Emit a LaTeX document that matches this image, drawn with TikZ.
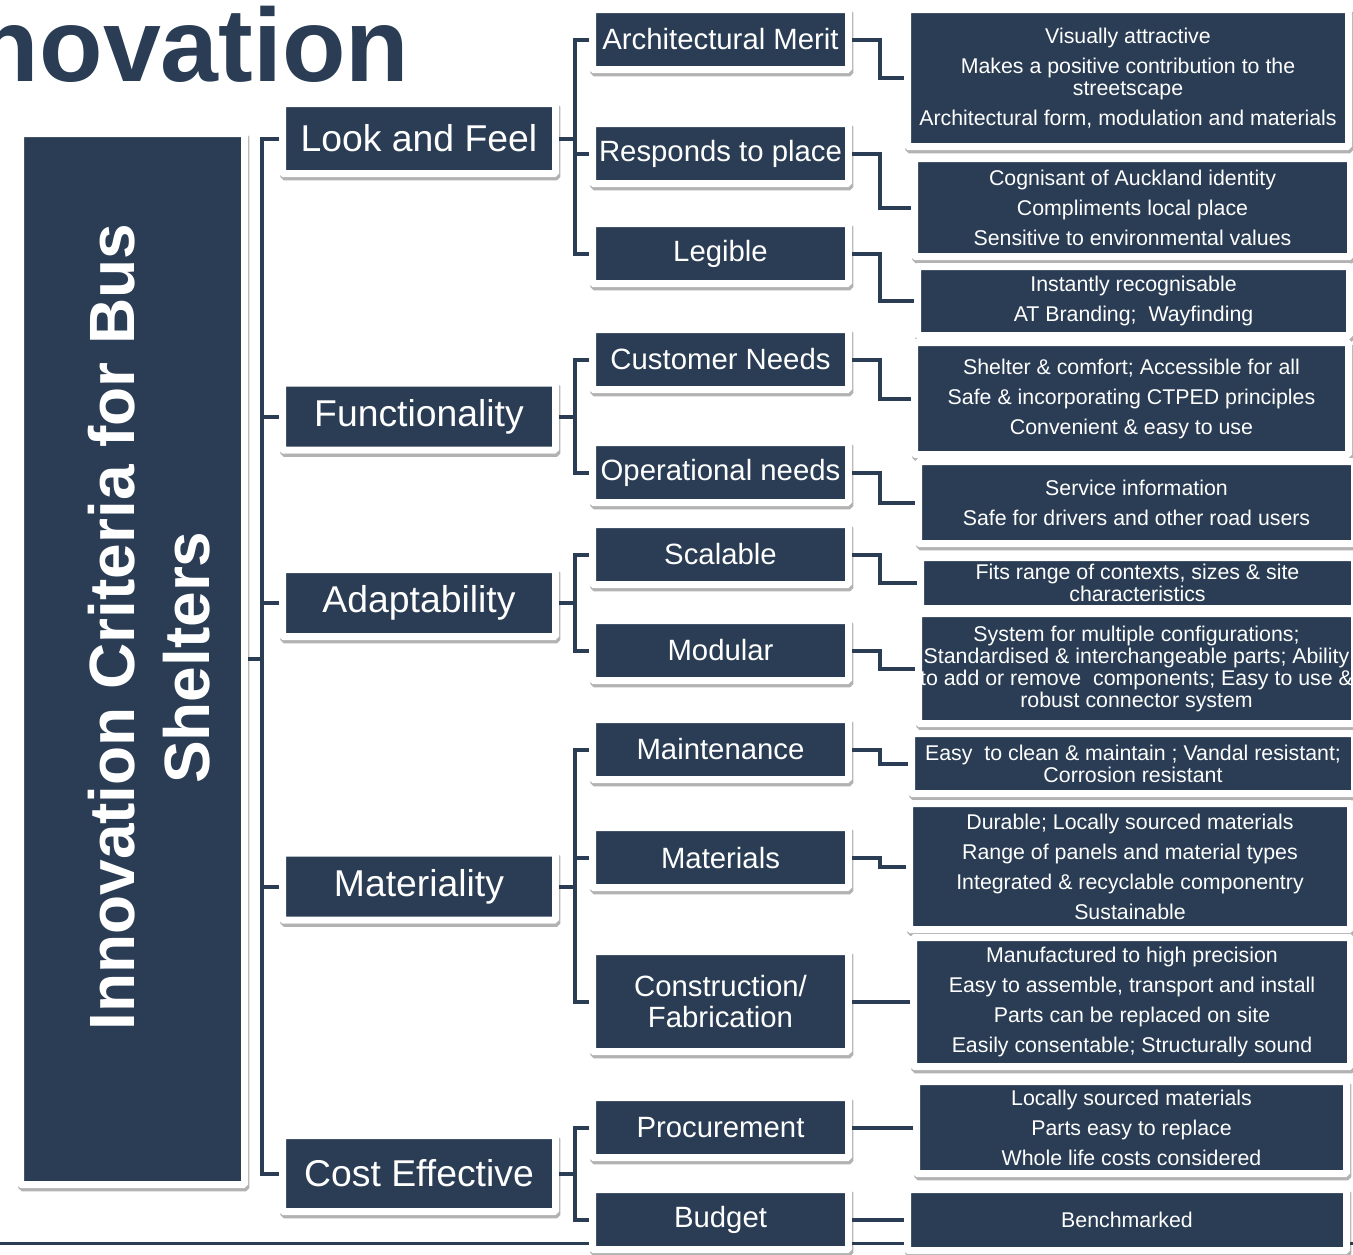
\documentclass[tikz,border=0pt]{standalone}
\usepackage{fontspec}
\setmainfont{Liberation Sans}
\usepackage{xcolor}
\usepackage{tikz}
\usetikzlibrary{shadows}
\definecolor{navy}{HTML}{2A3D54}

\begin{document}
\begin{tikzpicture}[
    x=0.75pt, y=-0.75pt,
    boxed/.style={rectangle, fill=navy, draw=white, line width=5.25pt, rounded corners=1pt, text=white, inner sep=1pt, align=center,
        drop shadow={shadow xshift=1pt, shadow yshift=-2.5pt, opacity=0.3, fill=black, draw=black}},
    catbox/.style={boxed, minimum width=204.75pt, minimum height=50.25pt, font=\fontsize{28}{32}\selectfont},
    subbox/.style={boxed, minimum width=192pt, minimum height=45pt, font=\fontsize{22}{23.5}\selectfont},
    descbox/.style={boxed, font=\fontsize{16}{16.5}\selectfont},
    link/.style={draw=navy, line width=3pt},
    rule/.style={draw=navy, line width=2.25pt}
]
    \useasboundingbox[fill=white] (0,0) rectangle (1353,1254);
    \draw[rule] (0,1243) -- (1353,1243);

    \node[font=\fontsize{78}{80}\bfseries, text=navy, anchor=base east] (heading) at (414,81) {novation};

    \node[boxed, minimum width=168pt, minimum height=788.25pt] (main) at (132.5,659) {};
    \node[rotate=90, text=white, font=\fontsize{48}{56}\bfseries, align=center] (maintext) at (149,627) {Innovation Criteria for Bus\\Shelters\hspace*{46pt}};

    \node[catbox, minimum height=52.5pt] (look) at (419,138.5) {Look and Feel};
    \node[catbox] (func) at (419,416.5) {Functionality};
    \node[catbox] (adapt) at (419,603) {Adaptability};
    \node[catbox] (mat) at (419,886.5) {Materiality};
    \node[catbox, minimum height=57pt] (cost) at (419,1173.5) {Cost Effective};

    \node[subbox] (am) at (720.5,39.5) {Architectural Merit};
    \node[subbox] (rtp) at (720.5,153.5) {Responds to place};
    \node[subbox] (leg) at (720.5,253.5) {Legible};
    \node[subbox] (cn) at (720.5,359.5) {Customer Needs};
    \node[subbox] (on) at (720.5,472.5) {Operational needs};
    \node[subbox] (scal) at (720.5,554.5) {Scalable};
    \node[subbox] (mod) at (720.5,650.5) {Modular};
    \node[subbox] (maint) at (720.5,749.5) {Maintenance};
    \node[subbox] (matl) at (720.5,857.5) {Materials};
    \node[subbox, minimum height=75pt] (constr) at (720.5,1001.5) {Construction/\\Fabrication};
    \node[subbox] (proc) at (720.5,1127.5) {Procurement};
    \node[subbox] (budget) at (720.5,1219.5) {Budget};

    \node[descbox, minimum width=330.75pt, minimum height=102.75pt] (vis) at (1128,78) {Visually attractive\\[6pt]Makes a positive contribution to the\\streetscape\\[6pt]Architectural form, modulation and materials};
    \node[descbox, minimum width=327pt, minimum height=73.5pt] (cog) at (1132.5,207.5) {Cognisant of Auckland identity\\[6pt]Compliments local place\\[6pt]Sensitive to environmental values};
    \node[descbox, minimum width=324pt, minimum height=51.75pt] (inst) at (1133.5,301) {Instantly recognisable\\[6pt]AT Branding;\ \ Wayfinding};
    \node[descbox, minimum width=325.5pt, minimum height=84pt] (shel) at (1131.5,398.5) {Shelter \& comfort; Accessible for all\\[6pt]Safe \& incorporating CTPED principles\\[6pt]Convenient \& easy to use};
    \node[descbox, minimum width=327pt, minimum height=61.5pt] (serv) at (1136.5,502.5) {Service information\\[6pt]Safe for drivers and other road users};
    \node[descbox, minimum width=325.5pt, minimum height=38.25pt] (fits) at (1137.5,583) {Fits range of contexts, sizes \& site\\characteristics};
    \node[descbox, minimum width=327pt, minimum height=82.5pt] (sys) at (1136.5,668.5) {System for multiple configurations;\\Standardised \& interchangeable parts; Ability\\to add or remove\ \ components; Easy to use \&\\robust connector system};
    \node[descbox, minimum width=332.25pt, minimum height=45pt] (easy) at (1133,763.5) {Easy\ \ to clean \& maintain ; Vandal resistant;\\Corrosion resistant};
    \node[descbox, minimum width=330.75pt, minimum height=94.5pt] (dur) at (1130,866.5) {Durable; Locally sourced materials\\[6pt]Range of panels and material types\\[6pt]Integrated \& recyclable componentry\\[6pt]Sustainable};
    \node[descbox, minimum width=327.75pt, minimum height=96.75pt] (manu) at (1132,1002) {Manufactured to high precision\\[6pt]Easy to assemble, transport and install\\[6pt]Parts can be replaced on site\\[6pt]Easily consentable; Structurally sound};
    \node[descbox, minimum width=322.5pt, minimum height=69pt] (loc) at (1131.5,1127.5) {Locally sourced materials\\[6pt]Parts easy to replace\\[6pt]Whole life costs considered};
    \node[descbox, minimum width=329.25pt, minimum height=45.75pt] (bench) at (1127,1220) {Benchmarked};

    \coordinate (trunkA) at (262,0);
    \coordinate (trunkB) at (575,0);
    \coordinate (trunkC) at (880,0);

    \draw[link] (main.east) -- (main.east -| trunkA);
    \draw[link] (look.west) -- (look.west -| trunkA) |- (cost.west);
    \draw[link] (func.west) -- (func.west -| trunkA);
    \draw[link] (adapt.west) -- (adapt.west -| trunkA);
    \draw[link] (mat.west) -- (mat.west -| trunkA);

    \draw[link] (look.east) -- (look.east -| trunkB);
    \draw[link] (am.west) -- (am.west -| trunkB) |- (leg.west);
    \draw[link] (rtp.west) -- (rtp.west -| trunkB);
    \draw[link] (func.east) -- (func.east -| trunkB);
    \draw[link] (cn.west) -- (cn.west -| trunkB) |- (on.west);
    \draw[link] (adapt.east) -- (adapt.east -| trunkB);
    \draw[link] (scal.west) -- (scal.west -| trunkB) |- (mod.west);
    \draw[link] (mat.east) -- (mat.east -| trunkB);
    \draw[link] (maint.west) -- (maint.west -| trunkB) |- (constr.west);
    \draw[link] (matl.west) -- (matl.west -| trunkB);
    \draw[link] (cost.east) -- (cost.east -| trunkB);
    \draw[link] (proc.west) -- (proc.west -| trunkB) |- (budget.west);

    \draw[link] (am.east) -- (am.east -| trunkC) |- (vis.west);
    \draw[link] (rtp.east) -- (rtp.east -| trunkC) |- (cog.west);
    \draw[link] (leg.east) -- (leg.east -| trunkC) |- (inst.west);
    \draw[link] (cn.east) -- (cn.east -| trunkC) |- (shel.west);
    \draw[link] (on.east) -- (on.east -| trunkC) |- (serv.west);
    \draw[link] (scal.east) -- (scal.east -| trunkC) |- (fits.west);
    \draw[link] (mod.east) -- (mod.east -| trunkC) |- (sys.west);
    \draw[link] (maint.east) -- (maint.east -| trunkC) |- (easy.west);
    \draw[link] (matl.east) -- (matl.east -| trunkC) |- (dur.west);
    \draw[link] (constr.east) -- (constr.east -| trunkC) |- (manu.west);
    \draw[link] (proc.east) -- (proc.east -| trunkC) |- (loc.west);
    \draw[link] (budget.east) -- (budget.east -| trunkC) |- (bench.west);
\end{tikzpicture}
\end{document}
